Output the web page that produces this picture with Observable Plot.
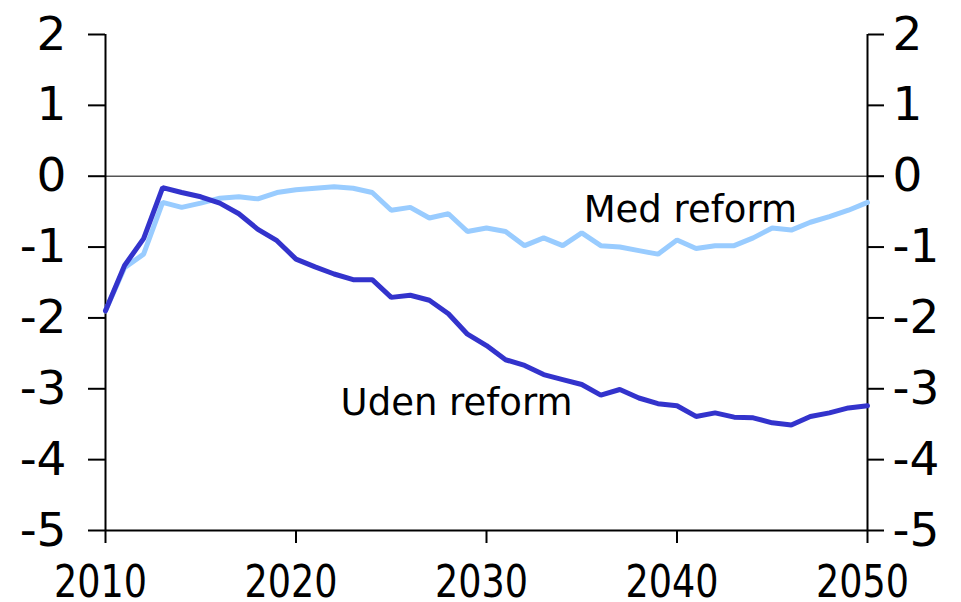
<!DOCTYPE html>
<html>
<head>
<meta charset="utf-8">
<script src="https://cdn.jsdelivr.net/npm/d3@7"></script>
<script src="https://cdn.jsdelivr.net/npm/@observablehq/plot@0.6"></script>
<style>
html, body { margin: 0; padding: 0; background: #fff; }
</style>
</head>
<body>
<div id="chart"></div>
<script>
const years = d3.range(2010, 2051);
const udenReform = [-1.90, -1.26, -0.88, -0.16, -0.23, -0.29, -0.38, -0.53, -0.75, -0.91,
  -1.17, -1.28, -1.38, -1.46, -1.46, -1.71, -1.68, -1.75, -1.94, -2.23,
  -2.39, -2.59, -2.67, -2.80, -2.87, -2.94, -3.09, -3.01, -3.13, -3.21,
  -3.24, -3.39, -3.34, -3.40, -3.41, -3.48, -3.51, -3.39, -3.34, -3.27, -3.24];
const medReform = [-1.90, -1.29, -1.10, -0.37, -0.44, -0.38, -0.31, -0.29, -0.32, -0.23,
  -0.19, -0.17, -0.15, -0.17, -0.23, -0.48, -0.44, -0.59, -0.53, -0.78,
  -0.73, -0.78, -0.98, -0.87, -0.98, -0.80, -0.98, -1.00, -1.05, -1.10,
  -0.90, -1.02, -0.98, -0.98, -0.87, -0.73, -0.76, -0.65, -0.57, -0.48, -0.37];
const yTicks = [-5, -4, -3, -2, -1, 0, 1, 2];
const xTicks = [2010, 2020, 2030, 2040, 2050];
const seriesLabels = [
  {name: "Med reform", year: 2035.1, value: -0.65},
  {name: "Uden reform", year: 2022.34, value: -3.375}
];

const uden = years.map((y, i) => ({year: y, value: udenReform[i]}));
const med = years.map((y, i) => ({year: y, value: medReform[i]}));

const tickFont = "DejaVu Sans, sans-serif";
const chart = Plot.plot({
  width: 961,
  height: 602,
  marginLeft: 105,
  marginRight: 94,
  marginTop: 34,
  marginBottom: 72,
  style: {background: "#fff", color: "#000"},
  x: {domain: [2010, 2050]},
  y: {domain: [-5, 2]},
  marks: [
    Plot.ruleY([0], {stroke: "#555", strokeWidth: 1.5}),
    Plot.ruleY([-5], {stroke: "#000", strokeWidth: 2}),
    Plot.ruleX([2010, 2050], {stroke: "#000", strokeWidth: 2}),
    Plot.axisY({anchor: "left", ticks: yTicks, tickSize: 17, tickPadding: 22, tickFormat: d => String(d), fontSize: 47, fontFamily: tickFont, stroke: "#000", strokeWidth: 2, label: null}),
    Plot.axisY({anchor: "right", ticks: yTicks, tickSize: 16, tickPadding: 9, tickFormat: d => String(d), fontSize: 47, fontFamily: tickFont, stroke: "#000", strokeWidth: 2, label: null}),
    Plot.axisX({anchor: "bottom", ticks: xTicks, tickSize: 13, tickPadding: 22, tickFormat: d => String(d), fontSize: 45, fontFamily: "DejaVu Sans Condensed, sans-serif", stroke: "#000", strokeWidth: 2, label: null}),
    Plot.line(med, {x: "year", y: "value", stroke: "#99CCFF", strokeWidth: 5, strokeLinejoin: "miter"}),
    Plot.line(uden, {x: "year", y: "value", stroke: "#3333CC", strokeWidth: 5, strokeLinejoin: "miter"}),
    Plot.text(seriesLabels, {x: "year", y: "value", text: "name", textAnchor: "start", lineAnchor: "bottom", fontSize: 37, fontFamily: "DejaVu Sans, sans-serif", fill: "#000"})
  ]
});
d3.select(chart).selectAll('g[aria-label="x-axis tick label"] text')
  .attr("textLength", 93)
  .attr("lengthAdjust", "spacingAndGlyphs")
  .attr("dx", -5);
document.getElementById("chart").appendChild(chart);
</script>
</body>
</html>
